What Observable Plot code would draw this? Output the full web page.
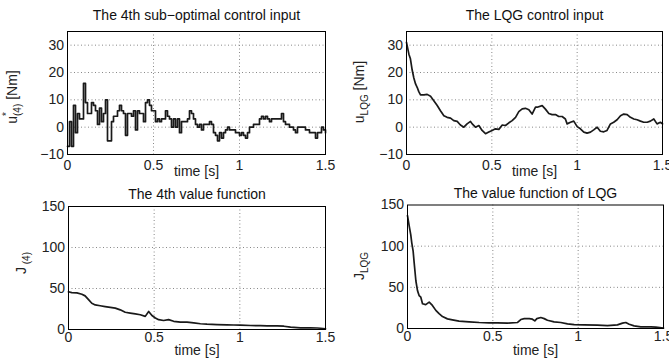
<!DOCTYPE html>
<html><head><meta charset="utf-8">
<script src="https://cdn.jsdelivr.net/npm/d3@7"></script>
<script src="https://cdn.jsdelivr.net/npm/@observablehq/plot@0.6"></script>
<style>
body{margin:0;background:#fff}
#root{position:relative;width:669px;height:363px;overflow:hidden;background:#fff;font-family:"Liberation Sans",Arial,sans-serif}
#root svg{position:absolute;overflow:visible}
</style></head><body><div id="root"></div>
<script>
// ---- data ----
const xTicks = [0, 0.5, 1, 1.5];
const uTicks = [-10, 0, 10, 20, 30];
const jTicks = [0, 50, 100, 150];

// 4th sub-optimal control input (zero-order hold, 130 samples over 0..1.5 s)
const u4Step = 1.5 / 129;
const u4Values = [-7,2,-7,8,-2,5,3,3,16,9,
  5,5,9,8,6,1,7,2,5,10,
  -5,-5,2,4,4,6,8,6,5,-3,
  5,5,4,6,-1,6,5,5,2,9,
  10,8,6,6,2,3,2,3,3,6,
  4,3,0,3,0,3,-2,2,2,2,
  3,6,5,3,1,0,1,-1,1,1,
  1,2,1,-2,-3,-5,-2,-4,-2,-1,
  0,-1,-1,-1,-2,-2,-3,-2,-3,-4,
  -2,0,0,1,1,1,3,4,3,4,
  3,2,3,3,3,3,3,5,2,1,
  1,0,0,-1,-2,0,0,0,0,-1,
  -1,-2,-2,-2,-4,-2,-2,0,-1,-2];

// LQG control input
const lqgUTimes = [0,0.014,0.023,0.033,0.043,0.053,0.063,0.072,0.082,0.102,0.121,0.141,0.160,0.180,0.199,0.219,0.238,0.258,0.277,0.297,0.316,0.336,0.355,0.375,0.385,0.404,0.424,0.443,0.463,0.482,0.502,0.521,0.541,0.561,0.580,0.600,0.619,0.639,0.658,0.678,0.697,0.717,0.736,0.756,0.766,0.795,0.814,0.834,0.853,0.873,0.892,0.912,0.931,0.941,0.961,0.980,1.000,1.019,1.039,1.058,1.078,1.097,1.117,1.136,1.156,1.175,1.195,1.214,1.234,1.254,1.273,1.293,1.312,1.332,1.351,1.371,1.390,1.410,1.429,1.449,1.468,1.488,1.5];
const lqgUValues = [31,26.7,25,21,18,15.8,14.5,13,11.8,11.8,12,11.3,9.7,7.9,6,4.2,3.6,3.3,2.4,2.1,0.8,0,1.2,2.1,1.2,0,0.6,-1.2,-2.4,-1.8,-1.2,-0.6,-0.8,0.8,0.6,1.6,2.4,3.6,5.7,6.7,6.9,6.4,4.8,7.3,7.3,7.9,6.6,5,4.6,4.6,3.9,3.9,3,1.2,1.8,2.2,0.2,-0.6,-1.8,-2.2,-1.8,-1,0,-1.5,-1.7,-1.2,1.2,1.8,2.7,4.2,4.8,4.6,3.6,3,2.7,2.2,1.8,1.8,2.2,3,1.2,1.8,1.2];

// 4th value function
const j4Times = [0,0.019,0.049,0.078,0.097,0.117,0.136,0.156,0.185,0.214,0.244,0.273,0.302,0.331,0.360,0.390,0.419,0.448,0.468,0.487,0.507,0.526,0.555,0.584,0.614,0.653,0.692,0.731,0.770,0.808,0.867,0.925,0.964,1.003,1.062,1.120,1.159,1.218,1.257,1.296,1.354,1.412,1.451,1.471,1.5];
const j4Values = [46,45,44.6,43,41,36.5,32,30,29,28,27,26,24,21,20,19,18,16,22,17,14,12,11,12,10,9,9,8,7,6.5,6,5.7,5.5,5.3,4.9,4.7,4.5,4.3,4,2.8,2,2,1.8,1.5,0.8];

// value function of LQG
const jLqgTimes = [0,0.0096,0.019,0.025,0.033,0.039,0.049,0.0586,0.068,0.078,0.088,0.107,0.127,0.146,0.166,0.185,0.205,0.234,0.263,0.302,0.361,0.420,0.478,0.527,0.586,0.645,0.664,0.684,0.713,0.732,0.746,0.758,0.781,0.801,0.820,0.859,0.898,0.9375,0.977,1.035,1.113,1.172,1.230,1.26,1.279,1.299,1.328,1.367,1.426,1.455,1.5];
const jLqgValues = [137,125,114,104,94,80,58,46,40,38,30,29,32,28,22,18,14.5,11.7,10.5,8.9,8,7.3,6.9,6.9,6.5,7.3,10.9,12,12,11.3,9.3,12,13.3,12,10,8,7.3,5.6,4.8,4.4,4,3.6,4.4,6.5,7.3,5.2,3.2,2,2,1.6,0.4];

// ---- drawing ----
const root = document.getElementById("root");
const FONT = '"Liberation Sans", Arial, sans-serif';
const FS = 14;
const fmt = d => d < 0 ? "\u2212" + Math.abs(d) : String(d);

function panel(o) {
  const data = o.t.map((t, i) => ({t, v: o.v[i]}));
  const svg = Plot.plot({
    width: o.w, height: o.h,
    marginLeft: o.ml, marginRight: o.mr, marginTop: o.mt, marginBottom: o.mb,
    style: {fontFamily: FONT, fontSize: FS + "px", color: "#222", background: "transparent", overflow: "visible"},
    x: {domain: [0, 1.5]},
    y: {domain: o.yDomain},
    marks: [
      Plot.gridX(xTicks.slice(1, -1), {stroke: "#888", strokeOpacity: 1, strokeWidth: 1, strokeDasharray: "1,2.5"}),
      Plot.gridY(o.yGrid, {stroke: "#888", strokeOpacity: 1, strokeWidth: 1, strokeDasharray: "1,2.5"}),
      Plot.axisX({ticks: xTicks, tickSize: 0, tickPadding: o.xPad, tickFormat: fmt, label: null, fontSize: FS}),
      Plot.axisY({ticks: o.yTicks, tickSize: 0, tickPadding: 3.5, tickFormat: fmt, label: null, fontSize: FS}),
      Plot.line(data, {x: "t", y: "v", curve: o.step ? "step-after" : "linear", stroke: "#1a1a1a", strokeWidth: 1.7}),
      Plot.frame({stroke: "#000", strokeWidth: 1}),
      Plot.text([o.title], {text: d => d, frameAnchor: "top", lineAnchor: "middle", dy: o.titleDy, fontSize: FS, fill: "#111"}),
      Plot.text(["time [s]"], {text: d => d, frameAnchor: "bottom", lineAnchor: "middle", dy: o.timeDy, fontSize: FS, fill: "#222"})
    ]
  });
  svg.style.left = o.left + "px";
  svg.style.top = o.top + "px";
  // y label with sub/superscripts
  const lab = d3.select(svg).append("text")
    .attr("transform", `translate(${o.lx},${o.ly}) rotate(-90)`)
    .attr("text-anchor", "middle")
    .attr("font-family", FONT)
    .attr("font-size", FS)
    .attr("fill", "#222");
  lab.append("tspan").text(o.lab.base);
  let shift = 0;
  if (o.lab.sup) {
    lab.append("tspan").attr("font-size", 10).attr("dy", -7).text(o.lab.sup);
    shift = -7;
  }
  if (o.lab.sub) {
    lab.append("tspan").attr("font-size", 10).attr("dy", 4 - shift).attr("dx", o.lab.sup ? -4 : 0).text(o.lab.sub);
    shift = 4;
  }
  if (o.lab.unit) {
    lab.append("tspan").attr("dy", -shift).text(o.lab.unit);
  }
  root.appendChild(svg);
}

panel({
  t: u4Values.map((_, i) => i * u4Step), v: u4Values, step: true,
  left: 0, top: 0, w: 335, h: 180, ml: 67, mr: 10, mt: 31, mb: 26,
  yDomain: [-10, 35], yTicks: uTicks, yGrid: [0, 10, 20, 30], xPad: 6,
  title: "The 4th sub\u2212optimal control input", titleDy: -16, timeDy: 17,
  lx: 17, ly: 97, lab: {base: "u", sup: "*", sub: "(4)", unit: " [Nm]"}
});
panel({
  t: lqgUTimes, v: lqgUValues, step: false,
  left: 335, top: 0, w: 334, h: 180, ml: 71, mr: 7, mt: 31, mb: 26,
  yDomain: [-10, 35], yTicks: uTicks, yGrid: [0, 10, 20, 30], xPad: 6,
  title: "The LQG control input", titleDy: -16, timeDy: 17,
  lx: 29, ly: 92, lab: {base: "u", sub: "LQG", unit: " [Nm]"}
});
panel({
  t: j4Times, v: j4Values, step: false,
  left: 0, top: 180, w: 335, h: 183, ml: 68, mr: 10, mt: 26, mb: 34,
  yDomain: [0, 150], yTicks: jTicks, yGrid: [50, 100], xPad: 3,
  title: "The 4th value function", titleDy: -12, timeDy: 21,
  lx: 26, ly: 83, lab: {base: "J", sub: " (4)"}
});
panel({
  t: jLqgTimes, v: jLqgValues, step: false,
  left: 335, top: 180, w: 334, h: 183, ml: 72, mr: 6, mt: 24.5, mb: 35,
  yDomain: [0, 150], yTicks: jTicks, yGrid: [50, 100], xPad: 3,
  title: "The value function of LQG", titleDy: -11, timeDy: 22,
  lx: 29, ly: 86, lab: {base: "J", sub: "LQG"}
});
</script>
</body></html>
